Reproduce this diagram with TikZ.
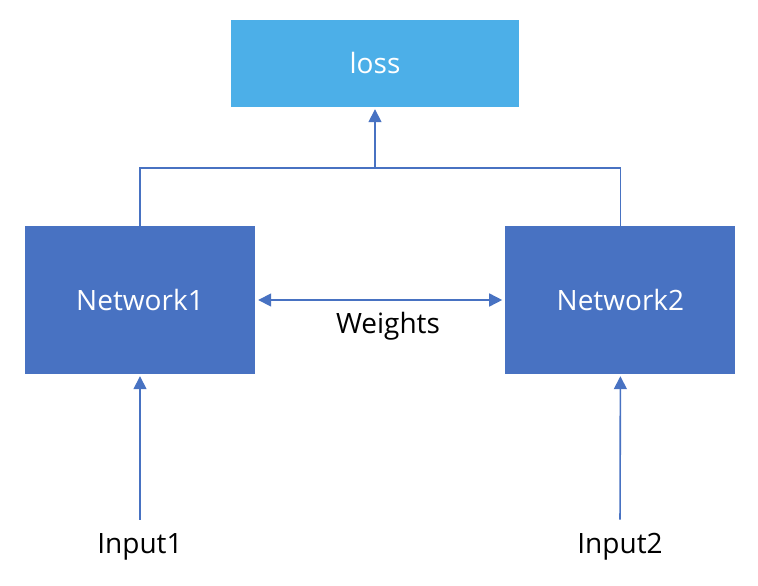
\documentclass[tikz,border=0pt]{standalone}
\usepackage{fontspec}
\setmainfont{Open Sans}
\usepackage{tikz}
\usetikzlibrary{positioning,arrows.meta}

\definecolor{netblue}{RGB}{72,114,194}
\definecolor{lossblue}{RGB}{76,175,232}

\begin{document}
\begin{tikzpicture}[x=1pt, y=-1pt,
  netnode/.style={rectangle, fill=netblue, text=white, minimum width=230pt, minimum height=148pt, inner sep=0pt, font=\fontsize{28}{32}\selectfont},
  lossnode/.style={rectangle, fill=lossblue, text=white, minimum width=288pt, minimum height=87pt, inner sep=0pt, font=\fontsize{28}{32}\selectfont},
  textnode/.style={rectangle, inner sep=2pt, font=\fontsize{28}{32}\selectfont},
  link/.style={draw=netblue, line width=1.6pt},
  arrow/.style={link, -{Triangle[width=13pt,length=13pt]}}
  ]
  \useasboundingbox (0,0) rectangle (758,586);

  % Boxes
  \node[lossnode]  (loss)     at (375,63.5)               {loss};
  \node[netnode]   (network1) at (140,300)                {Network1};
  \node[netnode]   (network2) [right=250pt of network1]   {Network2};

  % Inputs
  \node[textnode, anchor=base]  (input1)  at (140,553)    {Input1};
  \node[textnode, anchor=base]  (input2)  at (620,553)    {Input2};

  % Weights
  \node[textnode]  (weights)  at (388,326)                {Weights};

  % Connectors
  \coordinate (join) at (375,168);
  \draw[link] (network1.north) |- (join) -| (network2.north);
  \draw[arrow, shorten >=2pt] (join) -- (loss.south);
  \draw[arrow, {Triangle[width=13pt,length=13pt]}-{Triangle[width=13pt,length=13pt]}, shorten <=3pt, shorten >=3pt] (network1.east) -- (network2.west);
  \draw[arrow, shorten <=11pt, shorten >=2pt] (input1.north) -- (network1.south);
  \draw[arrow, shorten <=11pt, shorten >=2pt] (input2.north) -- (network2.south);

\end{tikzpicture}
\end{document}
